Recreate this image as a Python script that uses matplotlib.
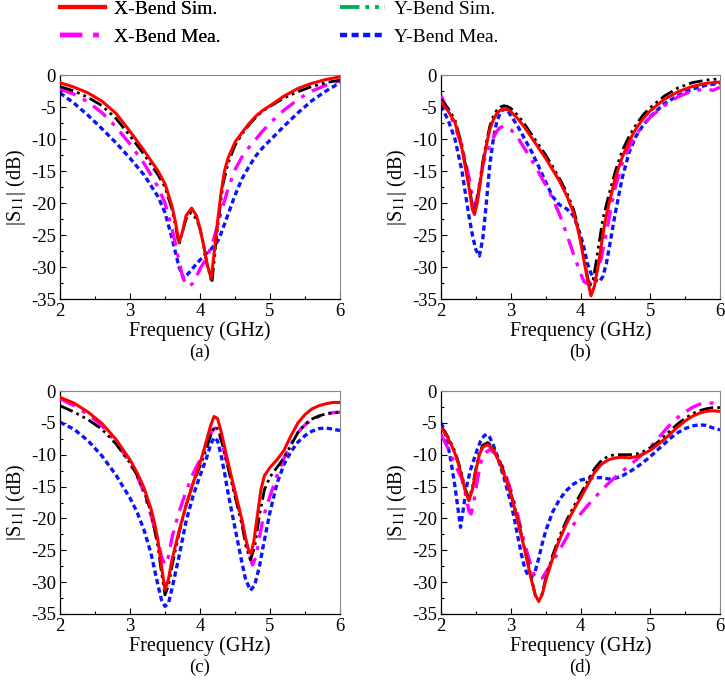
import matplotlib
matplotlib.use('Agg')
from matplotlib import pyplot as plt
from matplotlib.lines import Line2D
from matplotlib.ticker import MultipleLocator

plt.rcParams['font.family'] = 'serif'
plt.rcParams['font.serif'] = ['Liberation Serif', 'Times New Roman', 'DejaVu Serif']
plt.rcParams['mathtext.fontset'] = 'stix'

# ---- data (frequency in GHz, |S11| in dB) ----
# (a)
a_xsim_f = [2.0, 2.2, 2.4, 2.6, 2.8, 3.0, 3.2, 3.4, 3.5, 3.6, 3.65, 3.7, 3.75, 3.8, 3.88, 3.95, 4.0, 4.05, 4.1, 4.16, 4.2, 4.25, 4.3, 4.35, 4.4, 4.5, 4.6, 4.7, 4.8, 4.9, 5.0, 5.2, 5.4, 5.6, 5.8, 6.0]
a_xsim_s = [-1.2, -1.9, -2.8, -4.1, -6.0, -8.8, -11.8, -15.0, -17.0, -20.5, -23.0, -26.2, -24.5, -22.0, -20.8, -22.0, -24.0, -26.5, -29.5, -31.8, -28.0, -23.0, -18.5, -15.0, -13.0, -10.5, -9.0, -7.6, -6.4, -5.5, -4.8, -3.3, -2.1, -1.3, -0.7, -0.3]
a_ysim_f = [2.0, 2.2, 2.4, 2.6, 2.8, 3.0, 3.2, 3.4, 3.5, 3.6, 3.65, 3.7, 3.75, 3.8, 3.87, 3.95, 4.0, 4.05, 4.1, 4.17, 4.22, 4.27, 4.33, 4.4, 4.5, 4.6, 4.7, 4.8, 4.9, 5.0, 5.2, 5.4, 5.6, 5.8, 6.0]
a_ysim_s = [-1.8, -2.5, -3.5, -4.8, -6.8, -9.5, -12.4, -15.6, -17.5, -21.0, -23.5, -26.5, -24.5, -22.5, -21.5, -22.5, -24.0, -26.5, -29.5, -32.5, -27.0, -22.0, -17.0, -13.8, -11.0, -9.2, -7.8, -6.6, -5.6, -4.9, -3.6, -2.6, -1.8, -1.2, -0.8]
a_xmea_f = [2.0, 2.2, 2.4, 2.6, 2.8, 3.0, 3.2, 3.4, 3.5, 3.6, 3.7, 3.75, 3.8, 3.85, 3.9, 3.95, 4.0, 4.1, 4.2, 4.3, 4.4, 4.5, 4.6, 4.7, 4.8, 4.9, 5.0, 5.2, 5.4, 5.6, 5.8, 6.0]
a_xmea_s = [-2.2, -3.0, -4.2, -5.9, -8.1, -10.8, -13.8, -17.5, -20.0, -24.0, -29.0, -31.5, -32.8, -33.0, -32.5, -31.5, -30.3, -28.5, -25.5, -21.5, -17.8, -14.8, -12.8, -11.3, -10.0, -8.7, -7.5, -5.5, -3.8, -2.5, -1.6, -0.9]
a_ymea_f = [2.0, 2.2, 2.4, 2.6, 2.8, 3.0, 3.2, 3.4, 3.5, 3.6, 3.7, 3.77, 3.85, 3.95, 4.05, 4.15, 4.25, 4.3, 4.4, 4.5, 4.6, 4.7, 4.8, 4.9, 5.0, 5.2, 5.4, 5.6, 5.8, 6.0]
a_ymea_s = [-2.8, -4.4, -6.3, -8.4, -10.6, -13.0, -15.6, -19.0, -21.5, -25.5, -30.0, -31.8, -30.8, -29.5, -28.3, -27.3, -26.0, -24.8, -21.8, -18.8, -16.2, -14.3, -12.6, -11.3, -10.2, -8.0, -5.9, -4.0, -2.5, -1.2]

# (b)
b_xsim_f = [2.0, 2.1, 2.2, 2.3, 2.35, 2.4, 2.45, 2.48, 2.52, 2.56, 2.6, 2.65, 2.7, 2.75, 2.8, 2.85, 2.9, 2.95, 3.0, 3.1, 3.2, 3.3, 3.4, 3.5, 3.6, 3.7, 3.8, 3.9, 3.95, 4.0, 4.05, 4.1, 4.15, 4.2, 4.25, 4.3, 4.35, 4.4, 4.5, 4.6, 4.7, 4.8, 4.9, 5.0, 5.2, 5.4, 5.6, 5.8, 6.0]
b_xsim_s = [-4.2, -5.6, -7.4, -11.5, -14.5, -17.5, -21.0, -21.8, -20.0, -17.0, -14.0, -11.0, -8.5, -7.0, -6.0, -5.5, -5.3, -5.4, -5.7, -6.8, -8.2, -9.8, -11.4, -13.0, -14.8, -16.6, -18.8, -21.5, -23.5, -26.0, -29.0, -32.0, -34.5, -33.0, -30.0, -26.5, -23.0, -20.5, -16.0, -12.8, -10.3, -8.3, -6.8, -5.6, -3.8, -2.6, -1.8, -1.3, -1.1]
b_ysim_f = [2.0, 2.1, 2.2, 2.3, 2.35, 2.4, 2.45, 2.48, 2.52, 2.56, 2.6, 2.65, 2.7, 2.75, 2.8, 2.85, 2.9, 2.95, 3.0, 3.1, 3.2, 3.3, 3.4, 3.5, 3.6, 3.7, 3.8, 3.9, 3.95, 4.0, 4.05, 4.1, 4.13, 4.18, 4.22, 4.27, 4.32, 4.4, 4.5, 4.6, 4.7, 4.8, 4.9, 5.0, 5.2, 5.4, 5.6, 5.8, 6.0]
b_ysim_s = [-3.8, -5.2, -7.0, -11.0, -14.0, -17.0, -20.5, -21.0, -19.5, -16.5, -13.5, -10.5, -8.0, -6.5, -5.5, -5.0, -4.8, -4.9, -5.2, -6.3, -7.7, -9.3, -10.9, -12.5, -14.3, -16.2, -18.3, -21.0, -23.0, -25.5, -28.5, -31.5, -33.0, -32.0, -29.5, -26.0, -22.5, -19.0, -15.0, -11.8, -9.5, -7.7, -6.2, -5.1, -3.3, -2.0, -1.2, -0.8, -0.6]
b_xmea_f = [2.0, 2.1, 2.2, 2.3, 2.35, 2.4, 2.45, 2.48, 2.52, 2.56, 2.6, 2.65, 2.7, 2.75, 2.8, 2.85, 2.9, 2.95, 3.0, 3.1, 3.2, 3.3, 3.4, 3.5, 3.6, 3.7, 3.8, 3.9, 4.0, 4.05, 4.1, 4.15, 4.2, 4.25, 4.3, 4.35, 4.4, 4.45, 4.5, 4.6, 4.7, 4.8, 4.9, 5.0, 5.2, 5.4, 5.6, 5.8, 5.9, 6.0]
b_xmea_s = [-3.2, -5.5, -8.0, -11.0, -13.5, -16.0, -19.0, -20.5, -19.0, -16.5, -14.0, -12.3, -11.0, -9.8, -8.8, -8.2, -8.0, -8.1, -8.5, -9.8, -11.5, -13.3, -15.2, -17.2, -19.3, -21.8, -24.8, -28.0, -31.0, -32.3, -32.6, -32.4, -31.6, -30.3, -28.5, -25.8, -23.0, -20.0, -17.5, -13.8, -11.2, -9.3, -7.8, -6.6, -4.8, -3.4, -2.5, -2.2, -2.4, -1.9]
b_ymea_f = [2.0, 2.1, 2.2, 2.3, 2.35, 2.4, 2.45, 2.5, 2.55, 2.6, 2.65, 2.7, 2.75, 2.8, 2.85, 2.9, 2.95, 3.0, 3.1, 3.2, 3.3, 3.4, 3.5, 3.6, 3.7, 3.8, 3.9, 4.0, 4.05, 4.1, 4.15, 4.2, 4.27, 4.32, 4.37, 4.42, 4.5, 4.6, 4.7, 4.8, 4.9, 5.0, 5.2, 5.4, 5.6, 5.8, 6.0]
b_ymea_s = [-4.8, -7.0, -10.0, -15.0, -18.5, -22.0, -25.0, -27.3, -28.3, -25.5, -20.0, -14.0, -10.0, -7.3, -5.9, -5.3, -5.5, -6.3, -8.0, -10.0, -12.0, -14.3, -16.7, -19.0, -20.3, -20.9, -22.0, -25.0, -27.0, -29.5, -31.0, -32.0, -32.3, -31.5, -29.5, -26.5, -21.5, -16.0, -12.0, -9.5, -7.8, -6.5, -4.5, -3.2, -2.2, -1.6, -1.3]

# (c)
c_xsim_f = [2.0, 2.2, 2.4, 2.6, 2.8, 3.0, 3.1, 3.2, 3.3, 3.35, 3.4, 3.45, 3.5, 3.55, 3.6, 3.7, 3.8, 3.9, 4.0, 4.05, 4.1, 4.15, 4.2, 4.25, 4.3, 4.35, 4.4, 4.45, 4.5, 4.55, 4.6, 4.65, 4.7, 4.73, 4.77, 4.82, 4.87, 4.92, 5.0, 5.1, 5.2, 5.3, 5.4, 5.5, 5.6, 5.7, 5.8, 5.9, 6.0]
c_xsim_s = [-1.0, -1.9, -3.3, -5.1, -7.6, -10.8, -12.8, -15.2, -18.5, -20.7, -23.5, -27.5, -31.2, -29.5, -26.5, -22.0, -18.0, -14.5, -11.3, -9.5, -7.5, -5.5, -4.0, -4.3, -6.3, -8.7, -11.2, -13.5, -15.8, -18.0, -20.3, -23.0, -25.3, -25.5, -23.5, -19.5, -15.5, -13.3, -12.0, -10.8, -9.3, -7.0, -5.0, -3.7, -2.8, -2.3, -2.0, -1.8, -1.8]
c_ysim_f = [2.0, 2.2, 2.4, 2.6, 2.8, 3.0, 3.1, 3.2, 3.3, 3.4, 3.45, 3.5, 3.55, 3.6, 3.7, 3.8, 3.9, 4.0, 4.1, 4.17, 4.22, 4.27, 4.33, 4.4, 4.5, 4.6, 4.66, 4.72, 4.78, 4.85, 4.92, 5.0, 5.1, 5.2, 5.3, 5.4, 5.5, 5.6, 5.7, 5.8, 5.9, 6.0]
c_ysim_s = [-2.3, -3.3, -4.5, -6.0, -8.3, -11.3, -13.2, -15.7, -19.0, -24.5, -28.5, -32.0, -30.5, -27.5, -22.3, -18.0, -14.5, -11.8, -8.8, -6.3, -5.5, -6.3, -8.8, -12.0, -16.5, -21.0, -24.5, -26.5, -24.5, -19.5, -15.5, -13.5, -12.0, -10.5, -8.5, -6.5, -5.2, -4.4, -3.9, -3.6, -3.4, -3.4]
c_xmea_f = [2.0, 2.2, 2.4, 2.6, 2.8, 3.0, 3.1, 3.2, 3.3, 3.4, 3.45, 3.5, 3.55, 3.6, 3.7, 3.8, 3.9, 4.0, 4.1, 4.17, 4.22, 4.27, 4.33, 4.4, 4.5, 4.6, 4.67, 4.75, 4.8, 4.85, 4.9, 5.0, 5.1, 5.2, 5.3, 5.4, 5.5, 5.6, 5.7, 5.8, 5.9, 6.0]
c_xmea_s = [-1.2, -2.3, -3.7, -5.5, -8.0, -11.3, -13.3, -16.0, -19.5, -23.5, -26.0, -27.3, -26.0, -23.0, -19.0, -15.8, -13.0, -10.8, -8.3, -6.3, -5.8, -6.5, -8.8, -11.8, -16.0, -20.5, -24.5, -27.3, -26.0, -23.0, -20.0, -16.5, -13.3, -10.5, -8.3, -6.5, -5.3, -4.5, -4.0, -3.6, -3.4, -3.3]
c_ymea_f = [2.0, 2.2, 2.4, 2.6, 2.8, 3.0, 3.1, 3.2, 3.3, 3.4, 3.45, 3.5, 3.55, 3.6, 3.7, 3.8, 3.9, 4.0, 4.1, 4.15, 4.2, 4.25, 4.3, 4.35, 4.4, 4.5, 4.6, 4.65, 4.72, 4.78, 4.85, 4.9, 5.0, 5.1, 5.2, 5.3, 5.4, 5.5, 5.6, 5.7, 5.8, 5.9, 6.0]
c_ymea_s = [-4.9, -6.0, -7.8, -10.2, -13.2, -16.8, -19.0, -21.8, -25.5, -30.5, -32.8, -33.8, -33.3, -31.0, -26.0, -20.5, -16.5, -13.3, -10.3, -8.5, -7.3, -7.8, -10.0, -12.8, -16.0, -21.5, -27.0, -29.5, -31.3, -30.5, -27.5, -24.5, -19.0, -14.5, -11.5, -9.5, -8.0, -7.0, -6.3, -5.9, -5.8, -6.0, -6.2]

# (d)
d_xsim_f = [2.0, 2.05, 2.1, 2.15, 2.2, 2.25, 2.3, 2.35, 2.4, 2.45, 2.5, 2.55, 2.6, 2.67, 2.75, 2.85, 2.95, 3.0, 3.1, 3.2, 3.3, 3.35, 3.4, 3.45, 3.5, 3.6, 3.7, 3.8, 3.9, 4.0, 4.1, 4.2, 4.3, 4.4, 4.5, 4.6, 4.7, 4.8, 4.9, 5.0, 5.1, 5.2, 5.3, 5.4, 5.5, 5.6, 5.7, 5.8, 5.9, 6.0]
d_xsim_s = [-5.8, -6.5, -7.4, -8.5, -9.8, -11.5, -13.5, -15.8, -17.2, -15.5, -12.5, -10.0, -8.8, -8.4, -9.2, -11.5, -14.5, -16.2, -20.3, -25.0, -29.8, -32.0, -33.0, -32.0, -29.8, -26.3, -23.3, -20.8, -18.7, -16.8, -14.8, -12.8, -11.5, -10.8, -10.5, -10.4, -10.5, -10.3, -9.9, -9.3, -8.5, -7.6, -6.6, -5.6, -4.7, -4.0, -3.5, -3.2, -3.1, -3.2]
d_ysim_f = [2.0, 2.05, 2.1, 2.15, 2.2, 2.25, 2.3, 2.35, 2.4, 2.45, 2.5, 2.55, 2.6, 2.67, 2.75, 2.85, 2.95, 3.0, 3.1, 3.2, 3.3, 3.35, 3.4, 3.45, 3.5, 3.6, 3.7, 3.8, 3.9, 4.0, 4.1, 4.2, 4.3, 4.4, 4.5, 4.6, 4.7, 4.8, 4.9, 5.0, 5.1, 5.2, 5.3, 5.4, 5.5, 5.6, 5.7, 5.8, 5.9, 6.0]
d_ysim_s = [-5.6, -6.3, -7.2, -8.3, -9.5, -11.2, -13.2, -15.5, -16.8, -15.2, -12.2, -9.7, -8.5, -8.1, -8.9, -11.2, -14.2, -16.0, -20.0, -24.8, -29.5, -32.0, -33.0, -31.8, -29.5, -25.8, -22.8, -20.3, -18.2, -16.2, -14.2, -12.2, -10.9, -10.2, -10.0, -10.0, -10.0, -9.9, -9.5, -8.9, -8.1, -7.1, -6.1, -5.1, -4.3, -3.6, -3.1, -2.8, -2.6, -2.6]
d_xmea_f = [2.0, 2.1, 2.2, 2.3, 2.35, 2.4, 2.43, 2.47, 2.52, 2.57, 2.62, 2.7, 2.8, 2.9, 3.0, 3.1, 3.2, 3.3, 3.35, 3.4, 3.45, 3.5, 3.6, 3.7, 3.8, 3.9, 4.0, 4.1, 4.2, 4.3, 4.4, 4.5, 4.6, 4.7, 4.8, 4.9, 5.0, 5.1, 5.2, 5.3, 5.4, 5.5, 5.6, 5.7, 5.8, 5.9, 6.0]
d_xmea_s = [-6.8, -9.0, -11.5, -13.8, -16.0, -18.8, -19.3, -17.5, -14.0, -11.3, -9.8, -9.2, -10.0, -12.3, -15.5, -19.5, -24.0, -27.8, -29.2, -29.6, -29.4, -28.5, -26.8, -25.0, -23.0, -21.0, -19.3, -18.0, -16.8, -15.6, -14.5, -13.5, -12.6, -11.7, -10.8, -9.8, -8.8, -7.6, -6.3, -5.1, -4.1, -3.3, -2.6, -2.1, -1.9, -1.9, -2.2]
d_ymea_f = [2.0, 2.05, 2.1, 2.15, 2.2, 2.25, 2.28, 2.32, 2.37, 2.42, 2.47, 2.52, 2.57, 2.62, 2.66, 2.7, 2.75, 2.8, 2.9, 3.0, 3.05, 3.1, 3.15, 3.2, 3.25, 3.3, 3.35, 3.4, 3.45, 3.5, 3.6, 3.7, 3.8, 3.9, 4.0, 4.1, 4.2, 4.3, 4.4, 4.5, 4.6, 4.7, 4.8, 4.9, 5.0, 5.1, 5.2, 5.3, 5.4, 5.5, 5.6, 5.7, 5.8, 5.9, 6.0]
d_ymea_s = [-5.0, -6.2, -8.5, -11.5, -15.0, -19.0, -21.4, -18.5, -14.8, -12.5, -10.8, -9.2, -7.8, -7.0, -6.8, -7.3, -8.5, -10.0, -13.5, -17.5, -20.0, -22.8, -25.5, -27.8, -29.0, -29.2, -28.3, -26.3, -24.0, -22.0, -19.0, -17.0, -15.6, -14.6, -14.0, -13.7, -13.6, -13.6, -13.8, -13.7, -13.3, -12.7, -12.0, -11.2, -10.3, -9.3, -8.3, -7.3, -6.5, -5.9, -5.5, -5.3, -5.4, -5.8, -6.1]

panels = {
    'a': [(a_xsim_f, a_xsim_s), (a_xmea_f, a_xmea_s), (a_ysim_f, a_ysim_s), (a_ymea_f, a_ymea_s)],
    'b': [(b_xsim_f, b_xsim_s), (b_xmea_f, b_xmea_s), (b_ysim_f, b_ysim_s), (b_ymea_f, b_ymea_s)],
    'c': [(c_xsim_f, c_xsim_s), (c_xmea_f, c_xmea_s), (c_ysim_f, c_ysim_s), (c_ymea_f, c_ymea_s)],
    'd': [(d_xsim_f, d_xsim_s), (d_xmea_f, d_xmea_s), (d_ysim_f, d_ysim_s), (d_ymea_f, d_ymea_s)],
}

labels = ['X-Bend Sim.', 'X-Bend Mea.', 'Y-Bend Sim.', 'Y-Bend Mea.']
# line styles: X sim, X mea, Y sim, Y mea
styles = [
    dict(color='#ff0000', lw=2.2, ls='-', zorder=5),
    dict(color='#ff00ff', lw=2.4, ls=(0, (5, 2.5, 1.2, 2.5)), zorder=3),
    dict(color='black', lw=2.0, ls=(0, (5, 1.5, 1, 1.5, 1, 1.5)), zorder=4),
    dict(color='#0a14ff', lw=2.4, ls=(0, (1.6, 1.0)), zorder=2),
]

W, H = 725, 687
fig = plt.figure(figsize=(W / 100, H / 100), dpi=100)

boxes = {
    'a': (60, 75, 340, 299),
    'b': (441, 75, 720, 299),
    'c': (60, 391, 340, 614),
    'd': (441, 391, 720, 614),
}

for key, (x0, y0, x1, y1) in boxes.items():
    ax = fig.add_axes([x0 / W, 1 - y1 / H, (x1 - x0) / W, (y1 - y0) / H])
    for (f, s), st in zip(panels[key], styles):
        ax.plot(f, s, solid_joinstyle='round', **st)
    ax.set_xlim(2, 6)
    ax.set_ylim(-35, 0)
    ax.xaxis.set_major_locator(MultipleLocator(1))
    ax.xaxis.set_minor_locator(MultipleLocator(0.5))
    ax.yaxis.set_minor_locator(MultipleLocator(2.5))
    ax.set_yticks(range(-35, 1, 5))
    ax.set_yticklabels([str(v) for v in range(-35, 1, 5)])
    ax.tick_params(which='both', direction='in', labelsize=13.5, pad=3, width=0.8)
    ax.tick_params(which='major', length=4)
    ax.tick_params(which='minor', length=2.5)
    for side in ['top', 'right']:
        ax.spines[side].set_color('#888888')
        ax.spines[side].set_linewidth(0.8)
    for side in ['left', 'bottom']:
        ax.spines[side].set_linewidth(0.9)
    ax.set_xlabel('Frequency (GHz)', fontsize=14.5, labelpad=1)
    ax.set_ylabel(r'|S$_{11}$| (dB)', fontsize=14.5, labelpad=2)
    fig.text((x0 + x1) / 2 / W, 1 - (y1 + 53) / H, '(%s)' % key, ha='center', va='center', fontsize=13.5)

# legend (Y-Bend Sim. handle is green in the original legend)
handle_colors = ['#ff0000', '#ff00ff', '#00b050', '#0a14ff']
handles = []
for st, c in zip(styles, handle_colors):
    handles.append(Line2D([0], [0], color=c, lw=st['lw'] + 0.8, ls=st['ls']))

leg_kw = dict(frameon=False, fontsize=14, handlelength=2.3, handletextpad=0.5,
              labelspacing=0.55, borderpad=0, borderaxespad=0, loc='upper left')
leg1 = fig.legend(handles[:2], labels[:2], bbox_to_anchor=(60 / W, 1 - 0 / H), **leg_kw)
fig.add_artist(leg1)
fig.legend(handles[2:], labels[2:], bbox_to_anchor=(340 / W, 1 - 0 / H), **leg_kw)

plt.savefig('out.png', dpi=100)
